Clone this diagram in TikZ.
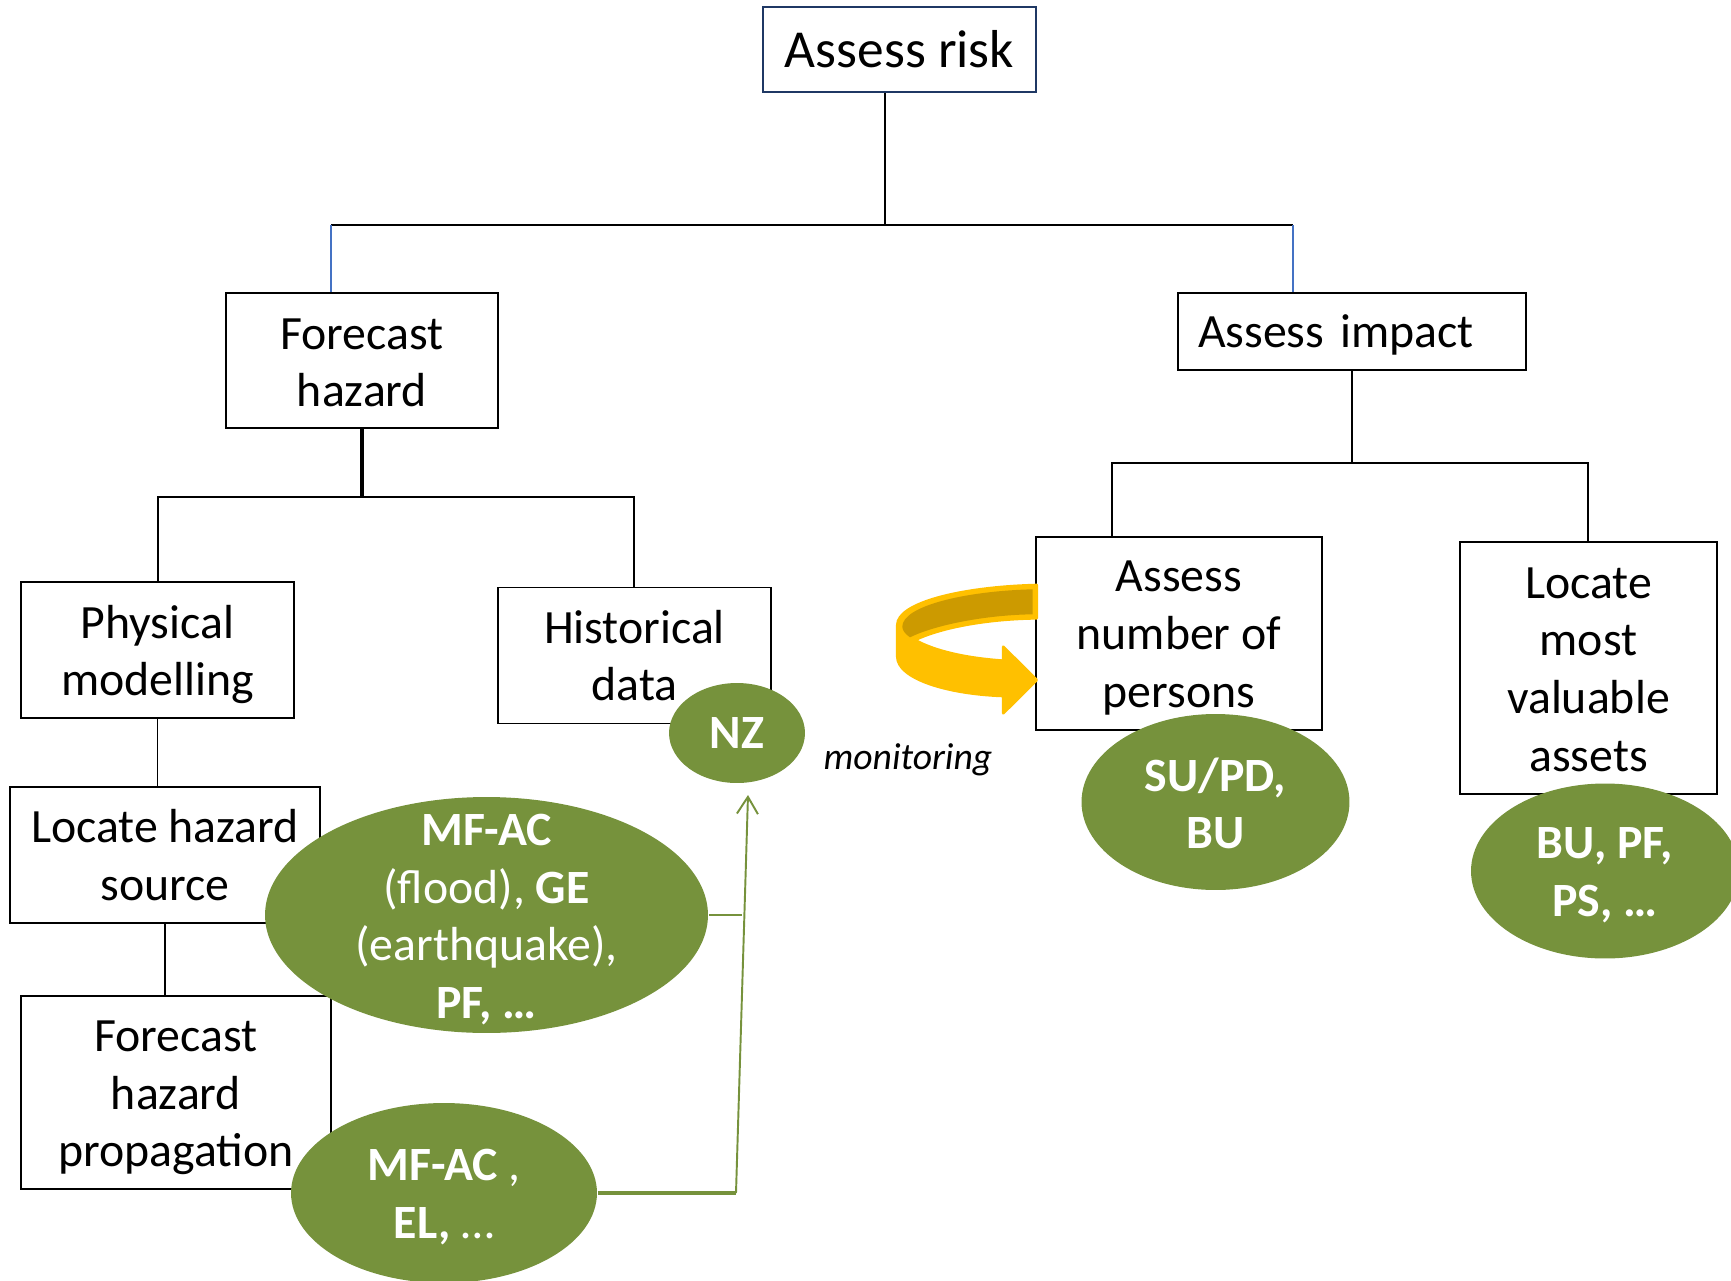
\documentclass[tikz,border=0pt]{standalone}
\usepackage{fontspec}
\setmainfont{Carlito}
\usepackage{tikz}
\usetikzlibrary{shapes,arrows.meta}
\definecolor{ovalgreen}{HTML}{76923C}
\definecolor{loopyellow}{HTML}{FFC000}
\definecolor{loopdark}{HTML}{CC9A00}
\definecolor{topblue}{HTML}{1F3864}
\definecolor{dropblue}{HTML}{4472C4}
\newcommand{\textdrop}[1]{\rule{0pt}{#1}}

\begin{document}
\begin{tikzpicture}[x=0.02cm,y=-0.02cm,line width=1.1pt]
\tikzstyle{taskbox}=[draw=black,text=black,align=center,inner sep=0pt,font=\fontsize{27.2}{32.8}\selectfont]
\tikzstyle{tooloval}=[ellipse,fill=ovalgreen,text=white,align=center,inner sep=-1.5cm,font=\fontsize{27.2}{32.8}\selectfont]
\tikzstyle{greenline}=[draw=ovalgreen]
\useasboundingbox (0,0) rectangle (1731,1281);
\node[taskbox,draw=topblue,minimum width=5.46cm,minimum height=1.7cm,font=\fontsize{30.4}{36}\selectfont](risk) at (899.5,49.5){Assess risk};
\node[taskbox,minimum width=5.44cm,minimum height=2.7cm](hazard) at (362,360.5){\textdrop{20pt}Forecast\\hazard};
\node[taskbox,text width=6.16cm,inner xsep=0.4cm,align=left,minimum height=1.54cm](impact) at (1352,331.5){\textdrop{22.5pt}Assess impact};
\node[taskbox,minimum width=5.46cm,minimum height=2.72cm](physical) at (157.5,650){\textdrop{24pt}Physical\\modelling};
\node[taskbox,minimum width=5.46cm,minimum height=2.72cm](historical) at (634.5,655.5){Historical\\data};
\node[taskbox,minimum width=6.2cm,minimum height=2.72cm](source) at (165,855){Locate hazard\\source};
\node[taskbox,minimum width=6.2cm,minimum height=3.86cm](propagation) at (176,1092.5){\textdrop{23.7pt}Forecast\\hazard\\propagation};
\node[taskbox,minimum width=5.72cm,minimum height=3.86cm](persons) at (1179,633.5){\textdrop{22.5pt}Assess\\number of\\persons};
\node[taskbox,minimum width=5.14cm,minimum height=5.04cm](assets) at (1588.5,668){\textdrop{19.3pt}Locate\\most\\valuable\\assets};
\coordinate (riskjoin) at (885,225);
\coordinate (hazardjoin) at (331,225);
\coordinate (impactjoin) at (1293,225);
\coordinate (forecastjoin) at (362,497);
\coordinate (physicaljoin) at (158,497);
\coordinate (historicaljoin) at (634,497);
\coordinate (assessjoin) at (1352,463);
\coordinate (personsjoin) at (1112,463);
\coordinate (assetsjoin) at (1588,463);
\draw (risk.south -| riskjoin)--(riskjoin);
\draw (hazardjoin)--(impactjoin);
\draw[dropblue,line width=0.7pt] (hazardjoin)--(hazard.north -| hazardjoin);
\draw[dropblue,line width=0.7pt] (impactjoin)--(impact.north -| impactjoin);
\draw[line width=2pt] (hazard.south)--(forecastjoin);
\draw (physical.north -| physicaljoin)--(physicaljoin)--(historicaljoin)--(historical.north -| historicaljoin);
\draw (impact.south)--(assessjoin);
\draw (persons.north -| personsjoin)--(personsjoin)--(assetsjoin)--(assets.north -| assetsjoin);
\draw (physical.south)--(physical.south |- source.north);
\draw (source.south)--(source.south |- propagation.north);
\path[fill=loopyellow,draw=loopyellow,line width=1.5pt,line join=round] (1036.7,585) .. controls (960,587) and (897.3,603) .. (897.3,625)
  --(897.3,656.7) .. controls (897.3,678) and (945,694) .. (1003.3,696)
  --(1003.3,713.3)--(1036.7,680)--(1003.3,646.7)--(1003.3,660.7)
  .. controls (965,658) and (935,651) .. (915,640)
  .. controls (940,628) and (985,619) .. (1036.7,618.3)--cycle;
\fill[loopdark] (1032.7,589.3) .. controls (965,591) and (902.3,606) .. (902.3,626.7)
  .. controls (902.3,630) and (905,634) .. (910,637.3)
  .. controls (935,625) and (985,615) .. (1032.7,614.3)--cycle;
\node[font=\fontsize{21.4}{25}\selectfont\itshape](monitoring) at (908,760){monitoring};
\node[tooloval,minimum width=2.72cm,minimum height=2cm](nz) at (737,733){\textbf{NZ}};
\node[tooloval,minimum width=8.86cm,minimum height=4.72cm](sourcetools) at (486.5,915){\textdrop{23.1pt}\textbf{MF-AC}\\(flood), \textbf{GE}\\(earthquake),\\\textbf{PF, …}};
\node[tooloval,minimum width=6.12cm,minimum height=3.6cm](propagationtools) at (444,1193){\textdrop{22.5pt}\textbf{MF-AC} ,\\\textbf{EL,} …};
\node[tooloval,minimum width=5.36cm,minimum height=3.52cm](personstools) at (1215.5,802){\textdrop{20.8pt}\textbf{SU/PD,}\\\textbf{BU}};
\node[tooloval,minimum width=5.36cm,minimum height=3.5cm](assetstools) at (1605,871){\textdrop{22.5pt}\textbf{BU, PF,}\\\textbf{PS, …}};
\coordinate (sourcestop) at (742,915);
\coordinate (propagationstop) at (736,1193);
\coordinate (nzgoal) at (748,795);
\draw[greenline] (sourcetools.east)--(sourcestop);
\draw[greenline,line width=1.8pt] (propagationtools.east)--(propagationstop);
\draw[greenline,-{Straight Barb[length=0.34cm,width=0.42cm]}] (propagationstop)--(nzgoal);
\end{tikzpicture}
\end{document}
